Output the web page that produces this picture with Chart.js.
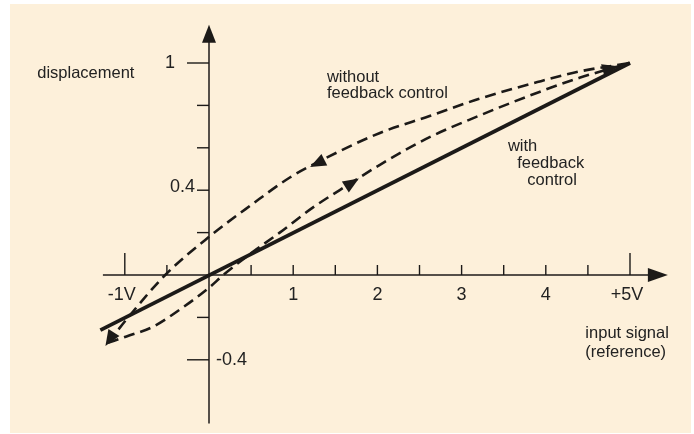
<!DOCTYPE html>
<html>
<head>
<meta charset="utf-8">
<script src="https://cdn.jsdelivr.net/npm/chart.js@4/dist/chart.umd.min.js"></script>
<style>
  html, body { margin: 0; padding: 0; background: #ffffff; }
  #c { display: block; }
</style>
</head>
<body>
<canvas id="c" width="694" height="434"></canvas>
<script>
// ---- data ----
const withFeedbackX = [-1.29, 5];
const withFeedbackY = [-0.26, 1];

const withoutDownX = [-1.2, -0.96, -0.52, 0, 0.5, 0.96, 1.28, 2.03, 2.62, 3.2, 3.9, 4.4, 5];
const withoutDownY = [-0.32, -0.2, 0, 0.18, 0.33, 0.46, 0.53, 0.67, 0.75, 0.83, 0.91, 0.96, 1];

const withoutUpX = [-1.2, -0.98, -0.67, -0.3, 0, 0.17, 0.49, 0.84, 1.24, 1.67, 2.03, 2.62, 3.2, 3.9, 4.4, 5];
const withoutUpY = [-0.32, -0.29, -0.245, -0.15, -0.06, 0, 0.1, 0.2, 0.32, 0.43, 0.52, 0.65, 0.75, 0.86, 0.93, 1];

const xTickValues = [-1, -0.5, 0.5, 1, 1.5, 2, 2.5, 3, 3.5, 4, 4.5, 5];
const xLongTicks = [-1, 5];
const xLabelValues = [-1, 1, 2, 3, 4, 5];
const xLabelTexts = ['-1V', '1', '2', '3', '4', '+5V'];

const yTickValues = [-0.4, -0.2, 0.2, 0.4, 0.6, 0.8, 1];
const yLongTicks = [-0.4, 1];
const yLabelValues = [1, 0.4, -0.4];
const yLabelTexts = ['1', '0.4', '-0.4'];

const pts = (xs, ys) => xs.map((x, i) => ({ x: x, y: ys[i] }));

// ---- style / layout ----
const INK = '#1c1a18';
const FONT = '"Liberation Sans", Arial, Helvetica, sans-serif';

const notes = [
  { text: 'displacement', x: -2.04, y: 0.953 },
  { text: 'without', x: 1.40, y: 0.934 },
  { text: 'feedback control', x: 1.40, y: 0.858 },
  { text: 'with', x: 3.55, y: 0.604 },
  { text: 'feedback', x: 3.66, y: 0.528 },
  { text: 'control', x: 3.78, y: 0.448 },
  { text: 'input signal', x: 4.47, y: -0.274 },
  { text: '(reference)', x: 4.47, y: -0.363 }
];

const curveArrows = [
  { tip: [1.2, 0.51], from: [1.6, 0.59] },
  { tip: [1.78, 0.455], from: [1.4, 0.36] },
  { tip: [-1.23, -0.335], from: [-1.08, -0.24] },
  { tip: [4.86, 0.985], from: [4.5, 0.945] }
];

function tri(ctx, tx, ty, dx, dy, len, half) {
  const L = Math.hypot(dx, dy) || 1;
  const ux = dx / L, uy = dy / L;
  const bx = tx - ux * len, by = ty - uy * len;
  ctx.beginPath();
  ctx.moveTo(tx, ty);
  ctx.lineTo(bx - uy * half, by + ux * half);
  ctx.lineTo(bx + uy * half, by - ux * half);
  ctx.closePath();
  ctx.fill();
}

const decor = {
  id: 'decor',
  beforeDraw(chart) {
    const ctx = chart.ctx;
    ctx.save();
    ctx.fillStyle = '#ffffff';
    ctx.fillRect(0, 0, chart.width, chart.height);
    ctx.fillStyle = '#fdf0da';
    ctx.fillRect(10, 4, 681, 429);
    ctx.restore();
  },
  beforeDatasetsDraw(chart) {
    const ctx = chart.ctx;
    const xs = chart.scales.x, ys = chart.scales.y;
    const X = v => xs.getPixelForValue(v), Y = v => ys.getPixelForValue(v);
    const x0 = X(0), y0 = Y(0);
    ctx.save();
    ctx.strokeStyle = INK;
    ctx.fillStyle = INK;
    ctx.lineWidth = 1.5;
    // x axis
    ctx.beginPath();
    ctx.moveTo(X(-1.26), y0);
    ctx.lineTo(X(5.3), y0);
    ctx.stroke();
    tri(ctx, X(5.45), y0, 1, 0, 20, 7);
    // y axis
    ctx.beginPath();
    ctx.moveTo(x0, Y(-0.70));
    ctx.lineTo(x0, Y(1.1));
    ctx.stroke();
    tri(ctx, x0, Y(1.18), 0, -1, 18, 7);
    // x ticks
    ctx.lineWidth = 1.4;
    xTickValues.forEach(v => {
      const len = xLongTicks.includes(v) ? 22 : 10;
      ctx.beginPath();
      ctx.moveTo(X(v), y0);
      ctx.lineTo(X(v), y0 - len);
      ctx.stroke();
    });
    // y ticks
    yTickValues.forEach(v => {
      const len = yLongTicks.includes(v) ? 22 : 12;
      ctx.beginPath();
      ctx.moveTo(x0, Y(v));
      ctx.lineTo(x0 - len, Y(v));
      ctx.stroke();
    });
    // tick labels
    ctx.font = '18px ' + FONT;
    ctx.fillStyle = '#222222';
    ctx.textBaseline = 'middle';
    ctx.textAlign = 'center';
    xLabelValues.forEach((v, i) => {
      let off = (xLabelTexts[i].length > 1) ? -3 : 0;
      ctx.fillText(xLabelTexts[i], X(v) + off, y0 + 20);
    });
    yLabelValues.forEach((v, i) => {
      const t = yLabelTexts[i];
      if (v < 0) {
        ctx.textAlign = 'left';
        ctx.fillText(t, x0 + 7, Y(v));
      } else if (yLongTicks.includes(v)) {
        ctx.textAlign = 'right';
        ctx.fillText(t, x0 - 34, Y(v));
      } else {
        ctx.textAlign = 'right';
        ctx.fillText(t, x0 - 14, Y(v) - 3);
      }
    });
    ctx.restore();
  },
  afterDatasetsDraw(chart) {
    const ctx = chart.ctx;
    const xs = chart.scales.x, ys = chart.scales.y;
    const X = v => xs.getPixelForValue(v), Y = v => ys.getPixelForValue(v);
    ctx.save();
    ctx.fillStyle = INK;
    curveArrows.forEach(a => {
      const tx = X(a.tip[0]), ty = Y(a.tip[1]);
      const fx = X(a.from[0]), fy = Y(a.from[1]);
      tri(ctx, tx, ty, tx - fx, ty - fy, 16, 6.5);
    });
    ctx.font = '16.5px ' + FONT;
    ctx.fillStyle = '#222222';
    ctx.textAlign = 'left';
    ctx.textBaseline = 'middle';
    notes.forEach(n => ctx.fillText(n.text, X(n.x), Y(n.y)));
    ctx.restore();
  }
};

new Chart(document.getElementById('c'), {
  type: 'scatter',
  data: {
    datasets: [
      {
        label: 'with feedback control',
        data: pts(withFeedbackX, withFeedbackY),
        showLine: true,
        borderColor: INK,
        borderWidth: 3.8,
        pointRadius: 0,
        borderCapStyle: 'butt',
        clip: false
      },
      {
        label: 'without feedback control (decreasing)',
        data: pts(withoutDownX, withoutDownY),
        showLine: true,
        borderColor: INK,
        borderWidth: 2.6,
        borderDash: [11, 6],
        pointRadius: 0,
        cubicInterpolationMode: 'monotone',
        clip: false
      },
      {
        label: 'without feedback control (increasing)',
        data: pts(withoutUpX, withoutUpY),
        showLine: true,
        borderColor: INK,
        borderWidth: 2.6,
        borderDash: [11, 6],
        pointRadius: 0,
        cubicInterpolationMode: 'monotone',
        clip: false
      }
    ]
  },
  options: {
    responsive: false,
    animation: false,
    events: [],
    layout: { padding: { left: 40.6, right: 21.9, top: 20.6, bottom: 10.6 } },
    plugins: { legend: { display: false }, tooltip: { enabled: false } },
    scales: {
      x: { type: 'linear', min: -2, max: 5.5, display: false },
      y: { type: 'linear', min: -0.7, max: 1.2, display: false }
    }
  },
  plugins: [decor]
});
</script>
</body>
</html>
